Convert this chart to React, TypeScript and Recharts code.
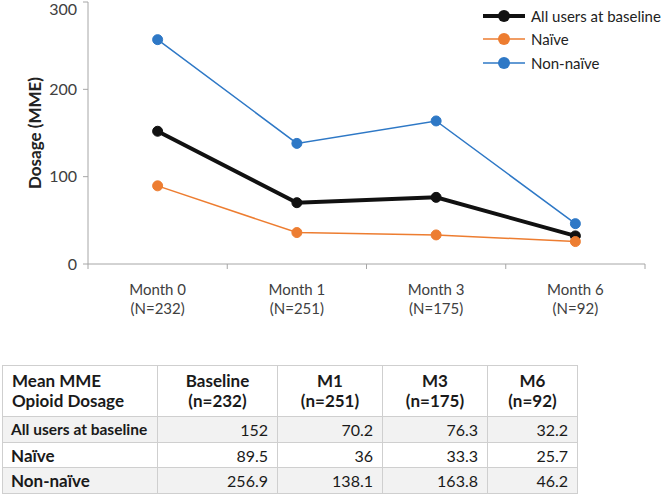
import React from 'react';
import { LineChart, Line, XAxis, YAxis, Legend } from 'recharts';

const months = ['Month 0', 'Month 1', 'Month 3', 'Month 6'];
const counts = [232, 251, 175, 92];
const tableHeads = ['Baseline', 'M1', 'M3', 'M6'];
const allUsers = [152, 70.2, 76.3, 32.2];
const naive = [89.5, 36, 33.3, 25.7];
const nonNaive = [256.9, 138.1, 163.8, 46.2];
const yTicks = [0, 100, 200, 300];

const seriesInfo = [
  { key: 'all', name: 'All users at baseline', color: '#111111', width: 4, values: allUsers },
  { key: 'naive', name: 'Naïve', color: '#ED7D31', width: 1.5, values: naive },
  { key: 'nonNaive', name: 'Non-naïve', color: '#2E78C6', width: 1.5, values: nonNaive },
];

const data = months.map((m, i) => ({
  month: m,
  all: allUsers[i],
  naive: naive[i],
  nonNaive: nonNaive[i],
}));

const FONT = 'Lato, "Open Sans", sans-serif';
const CHART_W = 663;
const MARGIN = { top: 2, right: 18, left: 0, bottom: 0 };
const Y_W = 88;
const HALF_BAND = (CHART_W - MARGIN.right - Y_W) / months.length / 2;

const XTick = (props: any) => {
  const { x, y, payload, index } = props;
  return (
    <g>
      <line x1={x - HALF_BAND} x2={x - HALF_BAND} y1={y} y2={y + 5} stroke="#a6a6a6" />
      {index === months.length - 1 && (
        <line x1={x + HALF_BAND} x2={x + HALF_BAND} y1={y} y2={y + 5} stroke="#a6a6a6" />
      )}
      <text x={x} y={y + 31} textAnchor="middle" fontSize={15} fill="#404040" fontFamily={FONT}>
        {payload.value}
      </text>
      <text x={x} y={y + 50} textAnchor="middle" fontSize={15} fill="#404040" fontFamily={FONT}>
        (N={counts[index]})
      </text>
    </g>
  );
};

const LegendBox = () => (
  <div style={{ fontFamily: FONT, fontSize: 15, color: '#222' }}>
    {seriesInfo.map((s) => (
      <div key={s.key} style={{ display: 'flex', alignItems: 'center', height: 23.5 }}>
        <svg width={46} height={16} style={{ marginRight: 4 }}>
          <line x1={2} x2={44} y1={8} y2={8} stroke={s.color} strokeWidth={s.width} />
          <circle cx={23} cy={8} r={6} fill={s.color} />
        </svg>
        <span>{s.name}</span>
      </div>
    ))}
  </div>
);

const cell: React.CSSProperties = {
  border: '1px solid #cfcfcf',
  padding: '0 9px',
  fontSize: 16,
  color: '#1a1a1a',
};

const colWidths = [155, 120, 105, 105, 90];

const App: React.FC = () => {
  return (
    <div style={{ position: 'absolute', left: 0, top: 0, width: 663, height: 494, background: '#fff', fontFamily: FONT }}>
      <LineChart width={CHART_W} height={330} data={data} margin={MARGIN}>
        <XAxis
          dataKey="month"
          scale="band"
          stroke="#a6a6a6"
          tickLine={false}
          tickSize={0}
          tickMargin={0}
          height={66}
          tick={<XTick />}
          interval={0}
        />
        <YAxis
          width={Y_W}
          domain={[0, 300]}
          ticks={yTicks}
          stroke="#a6a6a6"
          tickSize={5}
          tickMargin={6}
          tick={{ fill: '#404040', fontSize: 16, fontFamily: FONT }}
          label={{
            content: () => (
              <text
                x={41}
                y={133}
                transform="rotate(-90 41 133)"
                textAnchor="middle"
                fontSize={17}
                fontWeight="bold"
                fill="#222"
                fontFamily={FONT}
              >
                Dosage (MME)
              </text>
            ),
          }}
        />
        <Legend
          layout="vertical"
          verticalAlign="middle"
          align="center"
          content={<LegendBox />}
          wrapperStyle={{ top: 4, left: 481, width: 182 }}
        />
        {seriesInfo.map((s) => (
          <Line
            key={s.key}
            dataKey={s.key}
            name={s.name}
            stroke={s.color}
            strokeWidth={s.width}
            dot={{ r: 5, fill: s.color, stroke: s.color, strokeWidth: 1 }}
            activeDot={false}
            isAnimationActive={false}
          />
        ))}
      </LineChart>
      <table
        style={{
          position: 'absolute',
          left: 2,
          top: 365,
          borderCollapse: 'collapse',
          tableLayout: 'fixed',
          width: 575,
          fontFamily: FONT,
        }}
      >
        <colgroup>
          {colWidths.map((w, i) => (
            <col key={i} style={{ width: w }} />
          ))}
        </colgroup>
        <tbody>
          <tr style={{ height: 51, background: '#fff' }}>
            <td style={{ ...cell, fontWeight: 'bold', fontSize: 17, lineHeight: '20px' }}>
              Mean MME
              <br />
              Opioid Dosage
            </td>
            {tableHeads.map((h, i) => (
              <td key={h} style={{ ...cell, fontWeight: 'bold', fontSize: 17, textAlign: 'center', lineHeight: '20px' }}>
                {h}
                <br />
                (n={counts[i]})
              </td>
            ))}
          </tr>
          {seriesInfo.map((s, r) => (
            <tr key={s.key} style={{ height: 25.7, background: r % 2 === 0 ? '#f2f2f2' : '#fff' }}>
              <td
                style={{
                  ...cell,
                  fontWeight: 'bold',
                  fontSize: r === 0 ? 15.5 : 17,
                  whiteSpace: 'nowrap',
                  padding: '0 8px',
                }}
              >
                {s.name}
              </td>
              {s.values.map((v, i) => (
                <td key={i} style={{ ...cell, textAlign: 'right' }}>
                  {String(v)}
                </td>
              ))}
            </tr>
          ))}
        </tbody>
      </table>
    </div>
  );
};

export default App;
